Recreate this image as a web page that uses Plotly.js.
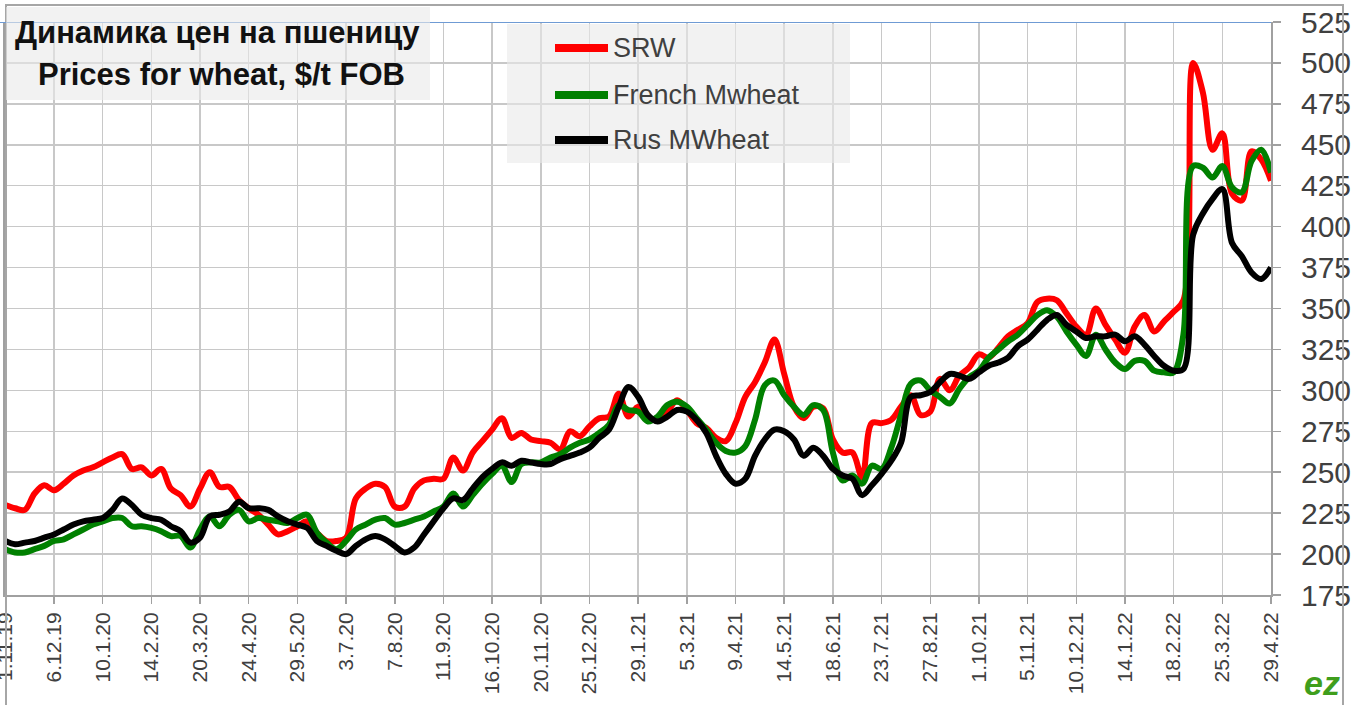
<!DOCTYPE html>
<html>
<head>
<meta charset="utf-8">
<script src="https://cdn.plot.ly/plotly-3.0.1.min.js"></script>
<style>html,body{margin:0;padding:0;background:#fff;}#chart{width:1357px;height:705px;}</style>
</head>
<body>
<div id="chart"></div>
<script>
// ---- data (weekly, Fridays, starting 1.11.19) ----
const firstWeek = '2019-11-01';
const seriesNames = ['SRW', 'French Mwheat', 'Rus MWheat'];
const seriesColors = ['#ff0000', '#008000', '#000000'];

const srw = [230,228,227,237,242,239,243,248,251,253,
             256,259,261,252,253,248,252,240,236,229,
             240,250,241,241,233,228,224,218,212,214,
             217,220,213,208,208,210,234,240,243,241,
             229,229,240,245,246,246,259,251,262,269,
             276,283,271,274,270,269,268,264,275,272,
             278,283,284,298,284,290,283,282,287,294,
             288,280,277,271,269,280,296,305,317,331,
             310,290,283,290,289,270,262,262,247,280,
             280,282,290,297,285,287,307,300,309,314,
             322,320,326,333,337,341,354,356,355,347,
             339,334,350,340,331,323,339,346,336,342,
             348,355,500,482,447,457,420,416,446,441,428];

const frenchMwheat = [203,201,201,203,205,208,209,212,215,218,
             220,222,222,217,217,216,214,211,211,204,
             215,223,217,224,227,220,222,221,220,219,
             222,224,213,207,203,208,215,218,221,222,
             218,219,221,223,226,229,237,229,236,243,
             249,254,244,255,256,256,259,261,265,268,
             270,274,279,291,288,287,281,284,291,293,
             290,283,276,268,263,262,266,282,303,306,
             297,290,285,291,288,262,245,248,243,254,
             252,265,285,304,306,300,296,292,301,308,
             312,320,325,330,334,340,346,349,345,336,
             328,321,334,325,317,313,318,318,312,311,
             311,334,437,436,430,437,424,421,440,447,433];

const rusMwheat = [208,206,207,208,210,212,215,218,220,221,
             222,227,234,230,224,222,221,217,214,207,
             210,223,224,226,232,228,228,227,223,220,
             218,216,208,205,202,200,205,209,211,209,
             205,201,204,212,220,228,234,233,240,247,
             252,256,254,257,256,255,255,258,260,262,
             265,271,276,290,302,296,285,281,284,288,
             287,282,274,260,249,243,246,260,270,276,
             275,270,260,265,260,252,248,246,236,242,
             249,257,268,296,297,299,305,310,309,307,
             311,315,317,320,327,331,337,343,346,340,
             336,332,333,333,334,330,333,328,321,315,
             312,313,395,408,417,423,390,382,372,368,375];

const tickDates = ['2019-11-01','2019-12-06','2020-01-10','2020-02-14','2020-03-20','2020-04-24','2020-05-29',
  '2020-07-03','2020-08-07','2020-09-11','2020-10-16','2020-11-20','2020-12-25','2021-01-29','2021-03-05',
  '2021-04-09','2021-05-14','2021-06-18','2021-07-23','2021-08-27','2021-10-01','2021-11-05','2021-12-10',
  '2022-01-14','2022-02-18','2022-03-25','2022-04-29'];
const tickLabels = ['1.11.19','6.12.19','10.1.20','14.2.20','20.3.20','24.4.20','29.5.20','3.7.20','7.8.20',
  '11.9.20','16.10.20','20.11.20','25.12.20','29.1.21','5.3.21','9.4.21','14.5.21','18.6.21','23.7.21',
  '27.8.21','1.10.21','5.11.21','10.12.21','14.1.22','18.2.22','25.3.22','29.4.22'];
const titleLines = ['Динамика цен на пшеницу', 'Prices for wheat, $/t FOB'];

// ---- layout helpers (pixel -> paper) ----
const W = 1357, H = 705, ML = 5, MR = 86, MT = 22, MB = 110;
const PW = W - ML - MR, PH = H - MT - MB;
const px = x => (x - ML) / PW;
const py = y => (H - MB - y) / PH;
const FONT = 'Liberation Sans, Arial, sans-serif';
const FONT_NARROW = 'Liberation Sans Narrow, Arial Narrow, Liberation Sans, sans-serif';

const allSeries = [srw, frenchMwheat, rusMwheat];
const traces = allSeries.map((vals, i) => ({
  type: 'scatter', mode: 'lines', name: seriesNames[i],
  x0: firstWeek, dx: 7 * 24 * 3600 * 1000, y: vals,
  line: {color: seriesColors[i], width: 6, shape: 'spline', smoothing: 1},
  showlegend: false, hoverinfo: 'skip'
}));

const shapes = [
  // outer frame
  {type: 'rect', xref: 'paper', yref: 'paper', x0: px(6), x1: px(1343), y0: py(707), y1: py(5),
   line: {color: '#a6a6a6', width: 2}, fillcolor: 'rgba(0,0,0,0)', layer: 'above'},
  // blue top line
  {type: 'line', xref: 'paper', yref: 'y', x0: px(0), x1: 1, y0: 525, y1: 525,
   line: {color: '#6f9bd4', width: 2}, layer: 'above'},
  // title box
  {type: 'rect', xref: 'paper', yref: 'paper', x0: px(6), x1: px(430), y0: py(100), y1: py(7),
   line: {width: 0}, fillcolor: 'rgba(233,233,233,0.6)', layer: 'above'},
  // legend box
  {type: 'rect', xref: 'paper', yref: 'paper', x0: px(507), x1: px(850), y0: py(163), y1: py(24),
   line: {width: 0}, fillcolor: 'rgba(233,233,233,0.6)', layer: 'above'}
];
const legendY = [48, 95, 140];
const annotations = [
  {xref: 'paper', yref: 'paper', x: px(217), y: py(32), xanchor: 'center', yanchor: 'middle', showarrow: false,
   text: titleLines[0], font: {family: FONT, size: 31, weight: 'bold', color: '#111'}},
  {xref: 'paper', yref: 'paper', x: px(221), y: py(74), xanchor: 'center', yanchor: 'middle', showarrow: false,
   text: titleLines[1], font: {family: FONT, size: 31, weight: 'bold', color: '#111'}},
  {xref: 'paper', yref: 'paper', x: px(1322), y: py(683), xanchor: 'center', yanchor: 'middle', showarrow: false,
   text: 'ez', font: {family: FONT, size: 34, weight: 'bold', style: 'italic', color: '#3f9e1c'}}
];
seriesNames.forEach((n, i) => {
  shapes.push({type: 'line', xref: 'paper', yref: 'paper', x0: px(555), x1: px(608), y0: py(legendY[i]), y1: py(legendY[i]),
    line: {color: seriesColors[i], width: 8}, layer: 'above'});
  annotations.push({xref: 'paper', yref: 'paper', x: px(611), y: py(legendY[i]), xanchor: 'left', yanchor: 'middle',
    showarrow: false, text: n, font: {family: FONT, size: 27, color: '#404040'}});
});

const layout = {
  width: W, height: H,
  margin: {l: ML, r: MR, t: MT, b: MB, pad: 0},
  paper_bgcolor: '#ffffff', plot_bgcolor: '#ffffff',
  showlegend: false,
  xaxis: {
    type: 'date', range: ['2019-10-31 18:00', '2022-04-29'],
    tickmode: 'array', tickvals: tickDates, ticktext: tickLabels, tickangle: -90,
    ticklabeloverflow: 'allow',
    ticks: 'outside', ticklen: 7, tickcolor: '#a0a0a0', tickwidth: 1.5,
    showgrid: true, gridcolor: '#c8c8c8', gridwidth: 1.5,
    showline: true, linecolor: '#a0a0a0', linewidth: 2,
    tickfont: {family: FONT, size: 21, color: '#404040'}, fixedrange: true
  },
  yaxis: {
    side: 'right', range: [175, 525], tick0: 175, dtick: 25,
    ticks: 'outside', ticklen: 8, tickcolor: '#a0a0a0', tickwidth: 1.5, ticklabelstandoff: 14,
    showgrid: true, gridcolor: '#c8c8c8', gridwidth: 1.5, zeroline: false,
    showline: true, mirror: true, linecolor: '#a0a0a0', linewidth: 2,
    tickfont: {family: FONT_NARROW, size: 30, color: '#404040'}, fixedrange: true
  },
  shapes: shapes,
  annotations: annotations
};

Plotly.newPlot('chart', traces, layout, {displayModeBar: false, staticPlot: true});
</script>
</body>
</html>
